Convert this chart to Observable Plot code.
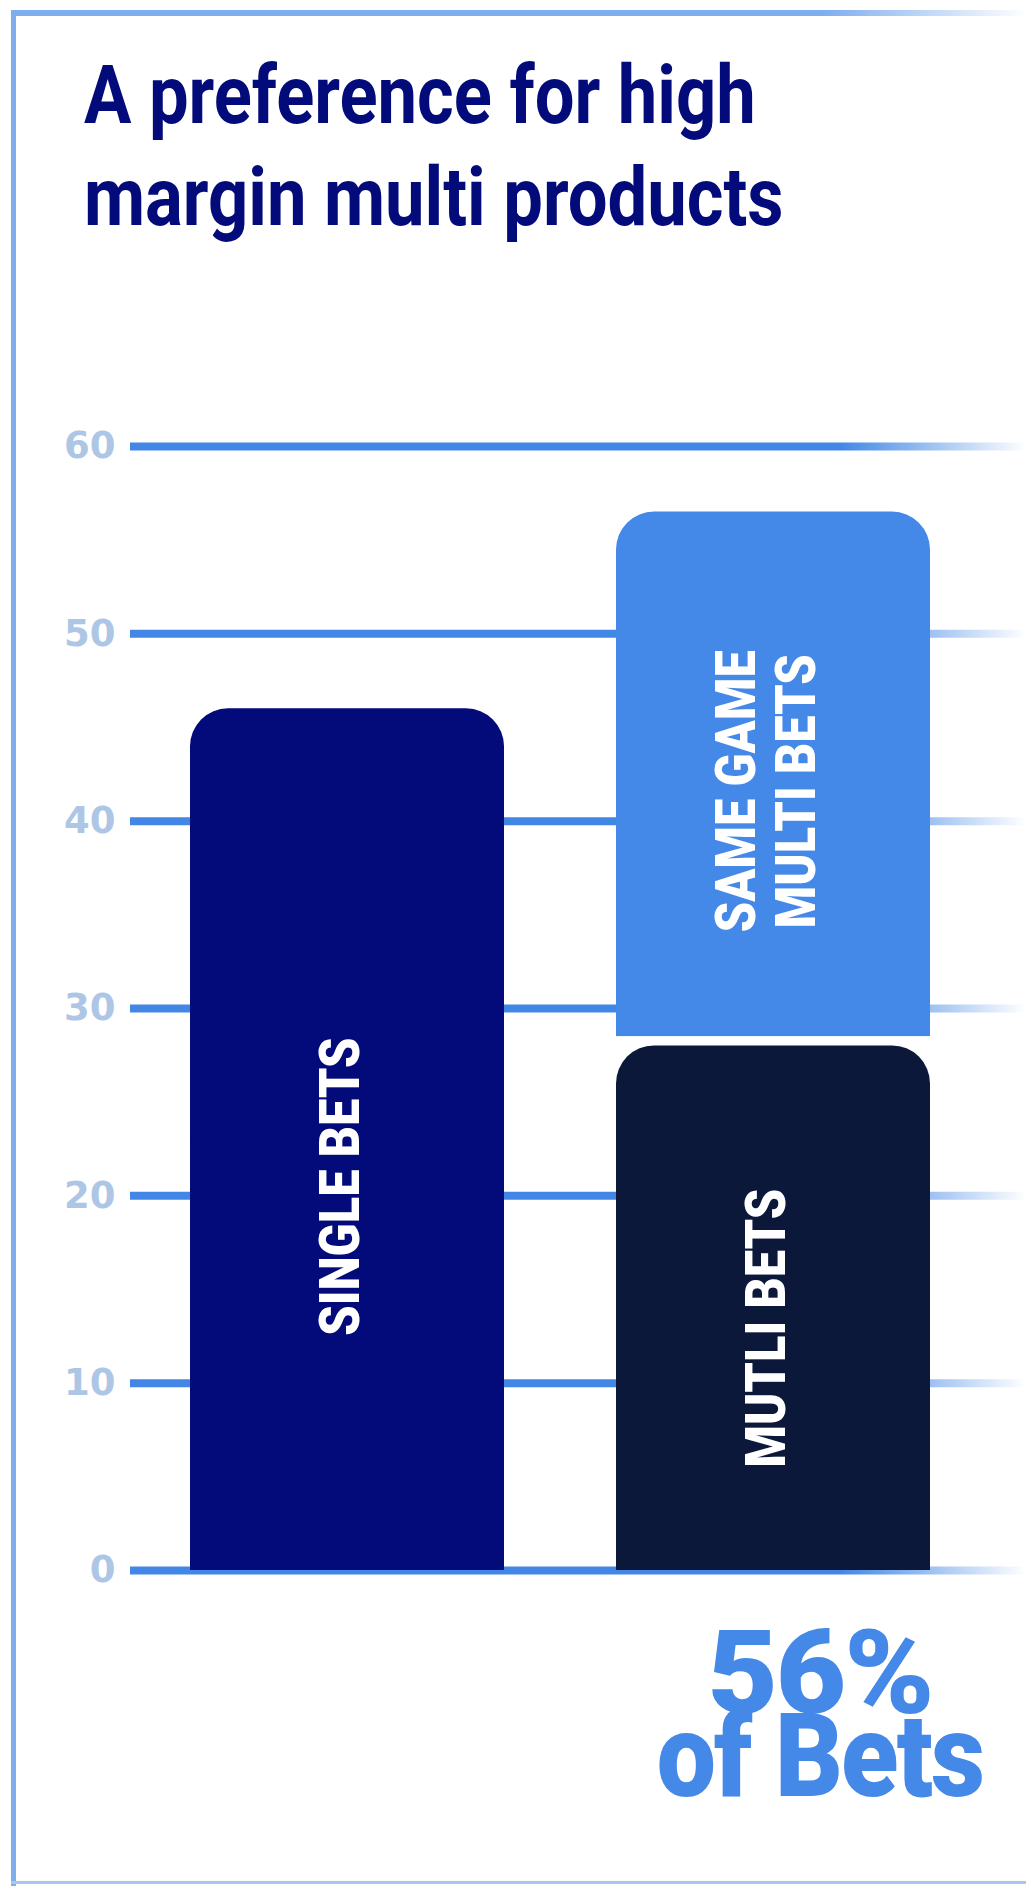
<!DOCTYPE html>
<html>
<head>
<meta charset="utf-8">
<script src="https://cdn.jsdelivr.net/npm/d3@7"></script>
<script src="https://cdn.jsdelivr.net/npm/@observablehq/plot@0.6"></script>
<style>
  html, body { margin: 0; padding: 0; background: #fff; }
  #page { position: relative; width: 1026px; height: 1886px; overflow: hidden; background: #fff; }
  .border-left { position: absolute; left: 11px; top: 10px; width: 5px; height: 1876px; background: #7eaeee; }
  .border-top { position: absolute; left: 11px; top: 10px; width: 1015px; height: 6px;
    background: linear-gradient(to right, #7eaeee 0%, #7eaeee 80%, rgba(126,174,238,0) 100%); }
  .border-bottom { position: absolute; left: 11px; top: 1881px; width: 1015px; height: 3px; background: #a9c6ef; }
  #title { position: absolute; left: 84px; top: 44px; margin: 0; font-family: Roboto, sans-serif; font-weight: 700;
    font-size: 82px; line-height: 102px; color: #030a7a; }
  #title span { display: block; transform-origin: 0 0; white-space: nowrap; }
  #chart { position: absolute; left: 0; top: 360px; }
  #caption { position: absolute; left: 620px; width: 400px; top: 1632px; text-align: center; font-family: Roboto, sans-serif;
    font-weight: 900; font-size: 117px; line-height: 83px; color: #4488e8; letter-spacing: -2px; }
  #caption span { display: block; transform-origin: 50% 50%; white-space: nowrap; }
</style>
</head>
<body>
<div id="page">
  <div class="border-left"></div>
  <div class="border-top"></div>
  <div class="border-bottom"></div>
  <h1 id="title"></h1>
  <div id="chart"></div>
  <div id="caption"></div>
</div>
<script>
// ---- data ----
const titleLines = ["A preference for high", "margin multi products"];
const groups = ["single", "multi", "multi"];
const segments = ["SINGLE BETS", "MUTLI BETS", "SAME GAME\nMULTI BETS"];
const segmentStart = [0, 0, 28.5];
const segmentEnd = [46, 28, 56.5];
const yTicks = [0, 10, 20, 30, 40, 50, 60];
const headlineLines = ["56%", "of Bets"];

// ---- styles ----
const palette = ["#030a7a", "#0b1839", "#4488e8"];
const headlineStretch = [1.04, 0.9];

const bars = segments.map((s, i) => ({segment: s, group: groups[i], lo: segmentStart[i], hi: segmentEnd[i]}));

// title
const titleEl = document.getElementById("title");
titleLines.forEach(t => {
  const s = document.createElement("span");
  s.textContent = t;
  s.style.transform = "scaleX(0.86)";
  titleEl.appendChild(s);
});
// caption
const capEl = document.getElementById("caption");
headlineLines.forEach((t, i) => {
  const s = document.createElement("span");
  s.textContent = t;
  s.style.transform = `scaleX(${headlineStretch[i]})`;
  capEl.appendChild(s);
});

const labelMark = (seg, dy) => Plot.text(bars.filter(d => d.segment === seg), {
  x: "group",
  y: d => (d.lo + d.hi) / 2,
  text: "segment",
  rotate: -90,
  fill: "white",
  fontSize: 56,
  fontWeight: 900,
  fontFamily: "Roboto, sans-serif",
  lineHeight: 1.07,
  dx: -8,
  dy
});

const chart = Plot.plot({
  width: 1026,
  height: 1240,
  marginLeft: 130,
  marginRight: 0,
  marginTop: 86,
  marginBottom: 30,
  style: {background: "transparent", color: "#adc6e6", fontFamily: "'DejaVu Sans', sans-serif", fontWeight: 700, overflow: "visible"},
  x: {domain: ["single", "multi"], range: [190, 930], paddingInner: 0.263, paddingOuter: 0, axis: null},
  y: {domain: [0, 60]},
  color: {domain: segments, range: palette},
  marks: [
    Plot.ruleY(yTicks, {stroke: "url(#gridFade)", strokeWidth: 8}),
    Plot.axisY(yTicks, {tickSize: 0, tickPadding: 15, fontSize: 37, label: null, tickFormat: d => String(d)}),
    Plot.barY(bars, {x: "group", y1: "lo", y2: "hi", fill: "segment", rx: 38}),
    Plot.barY(bars, {x: "group", y1: "lo", y2: d => (d.lo + d.hi) / 2, fill: "segment"}),
    labelMark("SINGLE BETS", 47),
    labelMark("MUTLI BETS", 20),
    labelMark("SAME GAME\nMULTI BETS", 17)
  ]
});
document.getElementById("chart").appendChild(chart);
const svg = chart.tagName.toLowerCase() === "svg" ? chart : chart.querySelector("svg");
const defs = d3.select(svg).insert("defs", ":first-child");
const grad = defs.append("linearGradient").attr("id", "gridFade")
  .attr("gradientUnits", "userSpaceOnUse").attr("x1", 840).attr("x2", 1026).attr("y1", 0).attr("y2", 0);
grad.append("stop").attr("offset", 0).attr("stop-color", "#4287e6");
grad.append("stop").attr("offset", 1).attr("stop-color", "#4287e6").attr("stop-opacity", 0);

// condense the rotated bar labels along their reading direction
svg.querySelectorAll("text").forEach(t => {
  const tr = t.getAttribute("transform") || "";
  if (tr.includes("rotate")) t.setAttribute("transform", tr + " scale(0.87,1)");
});
</script>
</body>
</html>
